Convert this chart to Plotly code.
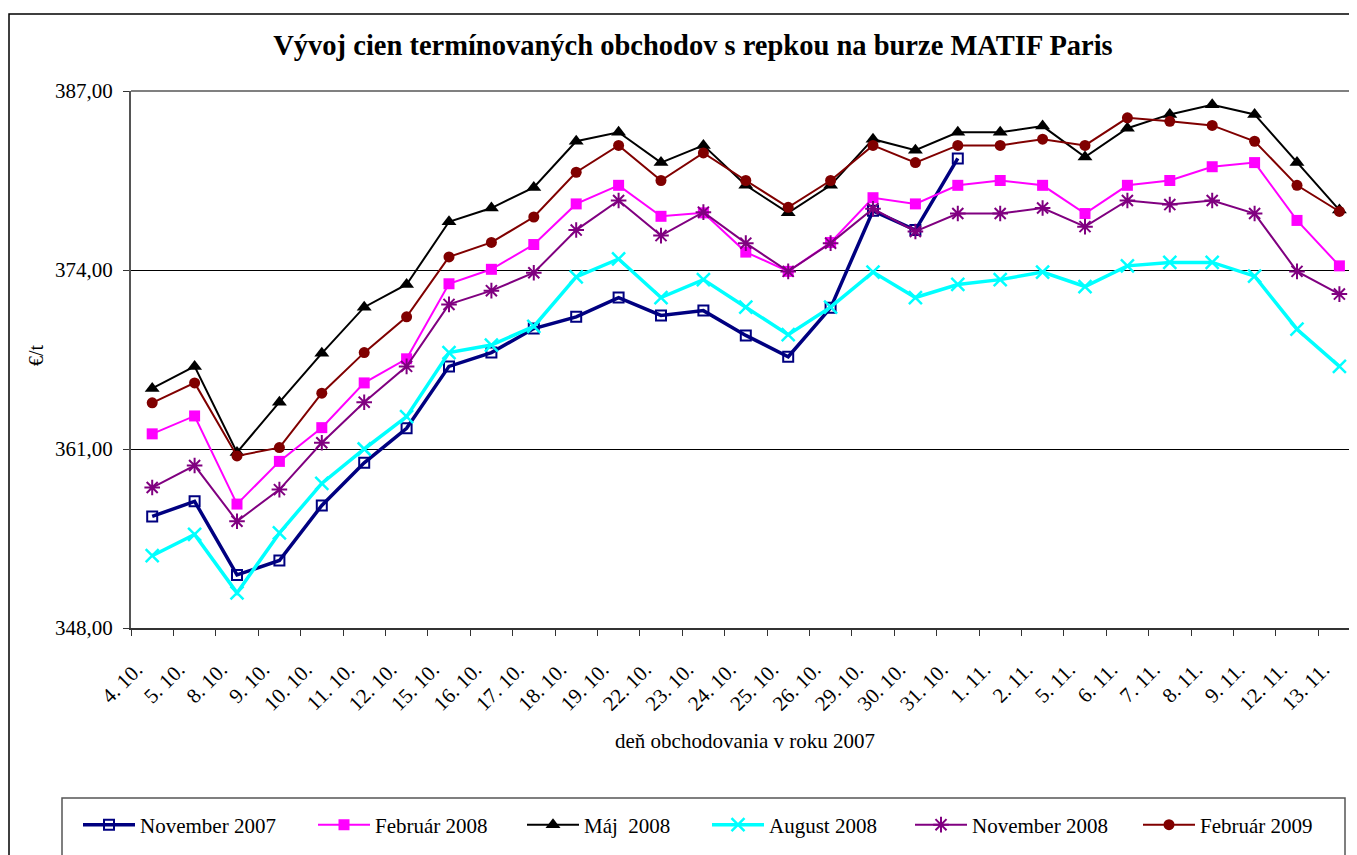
import plotly.graph_objects as go

categories = ["4. 10.", "5. 10.", "8. 10.", "9. 10.", "10. 10.", "11. 10.", "12. 10.",
              "15. 10.", "16. 10.", "17. 10.", "18. 10.", "19. 10.", "22. 10.", "23. 10.",
              "24. 10.", "25. 10.", "26. 10.", "29. 10.", "30. 10.", "31. 10.", "1. 11.",
              "2. 11.", "5. 11.", "6. 11.", "7. 11.", "8. 11.", "9. 11.", "12. 11.", "13. 11."]

nov_2007 = [356.1, 357.2, 351.85, 352.9, 356.9, 360.0, 362.5, 367.0, 368.0, 369.75,
            370.6, 372.0, 370.7, 371.05, 369.25, 367.7, 371.25, 378.3, 376.9, 382.1]
feb_2008 = [362.1, 363.4, 357.0, 360.1, 362.55, 365.8, 367.55, 373.0, 374.05, 375.85,
            378.8, 380.15, 377.9, 378.15, 375.3, 373.9, 376.0, 379.25, 378.8, 380.15,
            380.5, 380.15, 378.1, 380.15, 380.5, 381.5, 381.8, 377.6, 374.3]
maj_2008 = [365.4, 367.0, 360.75, 364.4, 367.95, 371.3, 372.95, 377.5, 378.5, 380.0,
            383.35, 384.0, 381.8, 383.05, 380.15, 378.15, 380.15, 383.5, 382.7, 384.0,
            384.0, 384.45, 382.2, 384.3, 385.3, 386.0, 385.3, 381.8, 378.35]
aug_2008 = [353.25, 354.8, 350.55, 354.9, 358.5, 361.0, 363.35, 368.0, 368.55, 369.9,
            373.5, 374.8, 372.0, 373.3, 371.3, 369.3, 371.3, 373.85, 372.0, 372.95,
            373.3, 373.85, 372.8, 374.3, 374.55, 374.55, 373.55, 369.7, 367.0]
nov_2008 = [358.2, 359.8, 355.75, 358.05, 361.45, 364.4, 367.0, 371.5, 372.5, 373.8,
            376.9, 379.05, 376.5, 378.2, 375.95, 373.9, 375.95, 378.45, 376.8, 378.1,
            378.1, 378.5, 377.15, 379.05, 378.75, 379.05, 378.1, 373.9, 372.25]
feb_2009 = [364.35, 365.8, 360.5, 361.1, 365.05, 368.0, 370.6, 374.95, 376.0, 377.85,
            381.1, 383.05, 380.5, 382.5, 380.5, 378.55, 380.5, 383.05, 381.8, 383.05,
            383.05, 383.5, 383.05, 385.05, 384.8, 384.5, 383.35, 380.15, 378.25]

series_names = ["November 2007", "Február 2008", "Máj  2008", "August 2008",
                "November 2008", "Február 2009"]
y_ticks = [348, 361, 374, 387]

FONT = "Liberation Serif, Times New Roman, serif"

# page has an 8px body margin; figure is sized to fit the 1357x855 window
OFF = 8
W, H = 1357 - OFF, 855 - OFF
PX0, PX1 = 131, 1357          # plot area, screen px
PY0, PY1 = 91, 628
L = PX0 - OFF
T = PY0 - OFF
B = H - (PY1 - OFF)
R = 0
CAT_W = 42.4


def px(xs):
    return (xs - PX0) / (PX1 - PX0)


def py(ys):
    return (PY1 - ys) / (PY1 - PY0)


styles = [
    ("#000080", 3.5, dict(symbol="square-open", size=10, line=dict(width=2, color="#000080"))),
    ("#FF00FF", 2, dict(symbol="square", size=11, color="#FF00FF")),
    ("#000000", 2, dict(symbol="triangle-up", size=13, color="#000000")),
    ("#00FFFF", 3.5, dict(symbol="x-thin-open", size=13, line=dict(width=2.5, color="#00FFFF"))),
    ("#800080", 2, dict(symbol="asterisk-open", size=13, line=dict(width=2, color="#800080"))),
    ("#800000", 2, dict(symbol="circle", size=11, color="#800000")),
]
all_series = [nov_2007, feb_2008, maj_2008, aug_2008, nov_2008, feb_2009]
legend_ids = ["legend", "legend2", "legend3", "legend4", "legend5", "legend6"]
legend_x = [83, 318, 527, 712, 915, 1143]   # screen x of each legend entry

fig = go.Figure()
for name, vals, (col, w, mk), lid in zip(series_names, all_series, styles, legend_ids):
    fig.add_trace(go.Scatter(
        x=categories[:len(vals)], y=vals, name=name, mode="lines+markers",
        line=dict(color=col, width=w), marker=mk, legend=lid,
    ))

legend_common = dict(orientation="h", xanchor="left", yanchor="middle",
                     itemwidth=52, font=dict(family=FONT, size=21, color="black"),
                     bgcolor="rgba(0,0,0,0)", borderwidth=0)
legends = {}
for lid, lx in zip(legend_ids, legend_x):
    legends[lid] = dict(legend_common, x=px(lx - 5), y=py(825))

fig.update_layout(
    width=W, height=H,
    margin=dict(l=L, r=R, t=T, b=B, autoexpand=False),
    paper_bgcolor="white", plot_bgcolor="white",
    separators=", ",
    font=dict(family=FONT, size=21, color="black"),
    title=dict(text="<b>Vývoj cien termínovaných obchodov s repkou na burze MATIF Paris</b>",
               x=(693 - OFF) / W, xanchor="center", xref="container",
               y=1 - (45 - OFF) / H, yanchor="middle", yref="container",
               font=dict(family=FONT, size=28.5, color="black")),
    showlegend=True,
    xaxis=dict(type="category", categoryorder="array", categoryarray=categories,
               range=[-0.5, (PX1 - PX0) / CAT_W - 0.5],
               showline=True, linecolor="#333333", linewidth=2,
               ticks="outside", tickson="boundaries", ticklen=6, tickwidth=1, tickcolor="#333333",
               tickangle=-45, tickfont=dict(family=FONT, size=21, color="black"),
               ticklabelstandoff=19, ticklabelshift=-16,
               showgrid=False, zeroline=False),
    yaxis=dict(range=[348, 387], tickvals=y_ticks, tickformat=".2f",
               showline=True, linecolor="#555555", linewidth=2,
               ticks="outside", ticklen=6, tickwidth=1, tickcolor="#333333",
               ticklabelstandoff=6,
               tickfont=dict(family=FONT, size=21, color="black"),
               showgrid=True, gridcolor="#000000", gridwidth=1, zeroline=False),
    annotations=[
        dict(text="€/t", x=px(36), y=py(355), xref="paper", yref="paper",
             xanchor="center", yanchor="middle",
             showarrow=False, textangle=-90, font=dict(family=FONT, size=20, color="black")),
        dict(text="deň obchodovania v roku 2007", x=px(745), y=py(741), xref="paper", yref="paper",
             xanchor="center", yanchor="middle",
             showarrow=False, font=dict(family=FONT, size=21, color="black")),
    ],
    shapes=[
        dict(type="rect", xref="paper", yref="paper", x0=px(9), x1=px(1400), y0=py(14), y1=py(900),
             line=dict(color="black", width=1.5), fillcolor="rgba(0,0,0,0)", layer="below"),
        dict(type="rect", xref="paper", yref="paper", x0=px(62), x1=px(1345), y0=py(798), y1=py(900),
             line=dict(color="#555555", width=1.5), fillcolor="rgba(0,0,0,0)", layer="below"),
        dict(type="line", xref="paper", yref="paper", x0=0, x1=1.01, y0=1, y1=1,
             line=dict(color="#808080", width=2), layer="below"),
    ],
    **legends,
)

fig.write_html("out.html")
